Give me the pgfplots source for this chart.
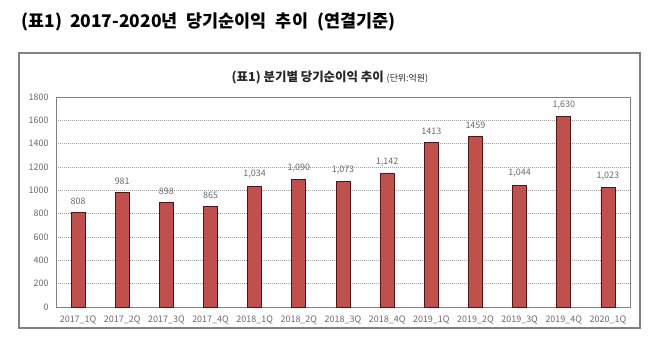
\documentclass[border=0pt]{standalone}
\usepackage{fontspec}
\setmainfont{Noto Sans CJK KR}
\usepackage{pgfplots}
\pgfplotsset{compat=1.18}
\definecolor{barred}{RGB}{192,80,77}
\definecolor{baredge}{RGB}{80,20,20}
\definecolor{txtgray}{RGB}{105,105,105}
\definecolor{framegray}{RGB}{128,128,128}
\begin{document}
\begin{tikzpicture}[x=1bp,y=1bp]
\path[use as bounding box] (0,0) rectangle (671,351);
% main title
\node[anchor=west, font=\fontsize{17.5}{20}\selectfont\bfseries] at (18,329) {(표1)\hspace{8bp}2017-2020년\hspace{9bp}당기순이익\hspace{9bp}추이\hspace{9bp}(연결기준)};
% chart frame
\draw[framegray, line width=1.2bp] (19,23) rectangle (640,298);
% chart title
\node[font=\fontsize{12.5}{14}\selectfont\bfseries, text=black!85] at (330,273) {(표1) 분기별 당기순이익 추이 {\fontsize{9}{10}\selectfont\mdseries (단위:억원)}};
\begin{axis}[
  at={(56bp,44bp)}, anchor=south west,
  scale only axis, width=574bp, height=210bp,
  xmin=-0.5, xmax=12.5, ymin=0, ymax=1800,
  xtick={0,...,12},
  xticklabels={2017\_1Q,2017\_2Q,2017\_3Q,2017\_4Q,2018\_1Q,2018\_2Q,2018\_3Q,2018\_4Q,2019\_1Q,2019\_2Q,2019\_3Q,2019\_4Q,2020\_1Q},
  ytick={0,200,...,1800},
  major tick length=0pt,
  tick label style={font=\fontsize{9}{10}\selectfont, text=txtgray},
  /pgf/number format/assume math mode=true,
  /pgf/number format/1000 sep={},
  xticklabel style={yshift=-5bp},
  yticklabel style={xshift=-4bp},
  ymajorgrids,
  major grid style={gray!75, dash pattern=on 1bp off 1bp, line width=0.6bp},
  axis line style={framegray, line width=0.8bp},
  nodes near coords,
  nodes near coords style={font=\fontsize{9}{10}\selectfont, text=txtgray, yshift=4bp},
  point meta=explicit symbolic,
]
\addplot[ybar, bar width=14bp, fill=barred, draw=baredge, line width=0.8bp]
  table[x=x, y=y, meta=label] {
x y label
0 808 808
1 981 981
2 898 898
3 865 865
4 1034 1,034
5 1090 1,090
6 1073 1,073
7 1142 1,142
8 1413 1413
9 1459 1459
10 1044 1,044
11 1630 1,630
12 1023 1,023
};
\end{axis}
\end{tikzpicture}
\end{document}
